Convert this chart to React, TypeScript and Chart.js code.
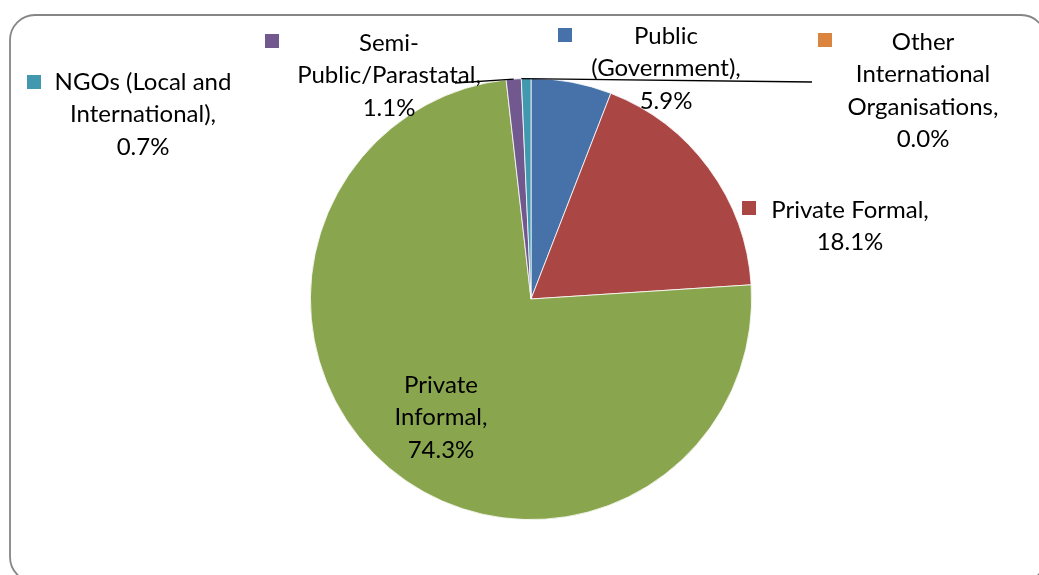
import React, { useEffect, useRef } from "react";
import { Chart, registerables } from "chart.js";

Chart.register(...registerables);

const categories = [
  "Public (Government)",
  "Private Formal",
  "Private Informal",
  "Semi-Public/Parastatal",
  "NGOs (Local and International)",
  "Other International Organisations",
];
const shares = [5.9, 18.1, 74.3, 1.1, 0.7, 0.0];
const sliceColors = ["#4672A9", "#AA4643", "#89A54E", "#71588F", "#4198AF", "#DB843D"];

// label layout: wrapped text lines, centre x, first-line y, legend key position
const labelLayout = [
  { lines: ["Public", "(Government),"], cx: 666, y0: 36, key: [565, 35] },
  { lines: ["Private Formal,"], cx: 850, y0: 210, key: [749, 208] },
  { lines: ["Private", "Informal,"], cx: 441, y0: 385, key: null },
  { lines: ["Semi-", "Public/Parastatal,"], cx: 389, y0: 43, key: [272, 41] },
  { lines: ["NGOs (Local and", "International),"], cx: 143, y0: 82, key: [34, 82] },
  { lines: ["Other", "International", "Organisations,"], cx: 923, y0: 42, key: [825, 40] },
];
// leader lines: [slice index, label end x, label end y, attach mode]
const leaders: [number, number, number, string][] = [
  [3, 455, 83, "mid"],
  [4, 812, 82, "end"],
];

const FONT = "24px Lato, 'Open Sans', sans-serif";
const LINE_H = 32.5;

const overlay = {
  id: "overlay",
  beforeDraw(chart: any) {
    const ctx = chart.ctx;
    ctx.save();
    ctx.strokeStyle = "#868686";
    ctx.lineWidth = 1.8;
    ctx.beginPath();
    if (ctx.roundRect) ctx.roundRect(10, 15, 1036, 567, 25);
    else ctx.rect(10, 15, 1036, 567);
    ctx.stroke();
    ctx.restore();
  },
  afterDraw(chart: any) {
    const ctx = chart.ctx;
    const meta = chart.getDatasetMeta(0);
    ctx.save();
    // leader lines
    ctx.strokeStyle = "#000";
    ctx.lineWidth = 1.3;
    leaders.forEach(([idx, lx, ly, mode]) => {
      const arc: any = meta.data[idx];
      const a =
        mode === "mid" ? (arc.startAngle + arc.endAngle) / 2 : mode === "end" ? arc.startAngle : arc.startAngle;
      const px = arc.x + Math.cos(a) * arc.outerRadius;
      const py = arc.y + Math.sin(a) * arc.outerRadius;
      ctx.beginPath();
      ctx.moveTo(lx, ly);
      ctx.lineTo(px, py);
      ctx.stroke();
    });
    // labels
    ctx.font = FONT;
    ctx.textAlign = "center";
    ctx.textBaseline = "middle";
    ctx.fillStyle = "#000";
    labelLayout.forEach((lay, i) => {
      const lines = [...lay.lines, `${shares[i].toFixed(1)}%`];
      lines.forEach((t, j) => {
        ctx.fillText(t, lay.cx, lay.y0 + j * LINE_H);
      });
      if (lay.key) {
        ctx.fillStyle = sliceColors[i];
        ctx.fillRect(lay.key[0] - 7, lay.key[1] - 7, 14, 14);
        ctx.fillStyle = "#000";
      }
    });
    ctx.restore();
  },
};

export default function App() {
  const ref = useRef<HTMLCanvasElement>(null);
  useEffect(() => {
    if (!ref.current) return;
    const chart = new Chart(ref.current, {
      type: "pie",
      data: {
        labels: categories,
        datasets: [
          {
            data: shares,
            backgroundColor: sliceColors,
            borderColor: "#ffffff",
            borderWidth: 0.8,
          },
        ],
      },
      options: {
        responsive: false,
        animation: false,
        devicePixelRatio: 1,
        layout: { padding: { left: 310, right: 287, top: 78, bottom: 55 } },
        plugins: { legend: { display: false }, tooltip: { enabled: false } },
      },
      plugins: [overlay],
    });
    return () => chart.destroy();
  }, []);
  return (
    <div style={{ position: "absolute", left: 0, top: 0, width: 1039, height: 575, background: "#fff" }}>
      <canvas ref={ref} width={1039} height={575} />
    </div>
  );
}
